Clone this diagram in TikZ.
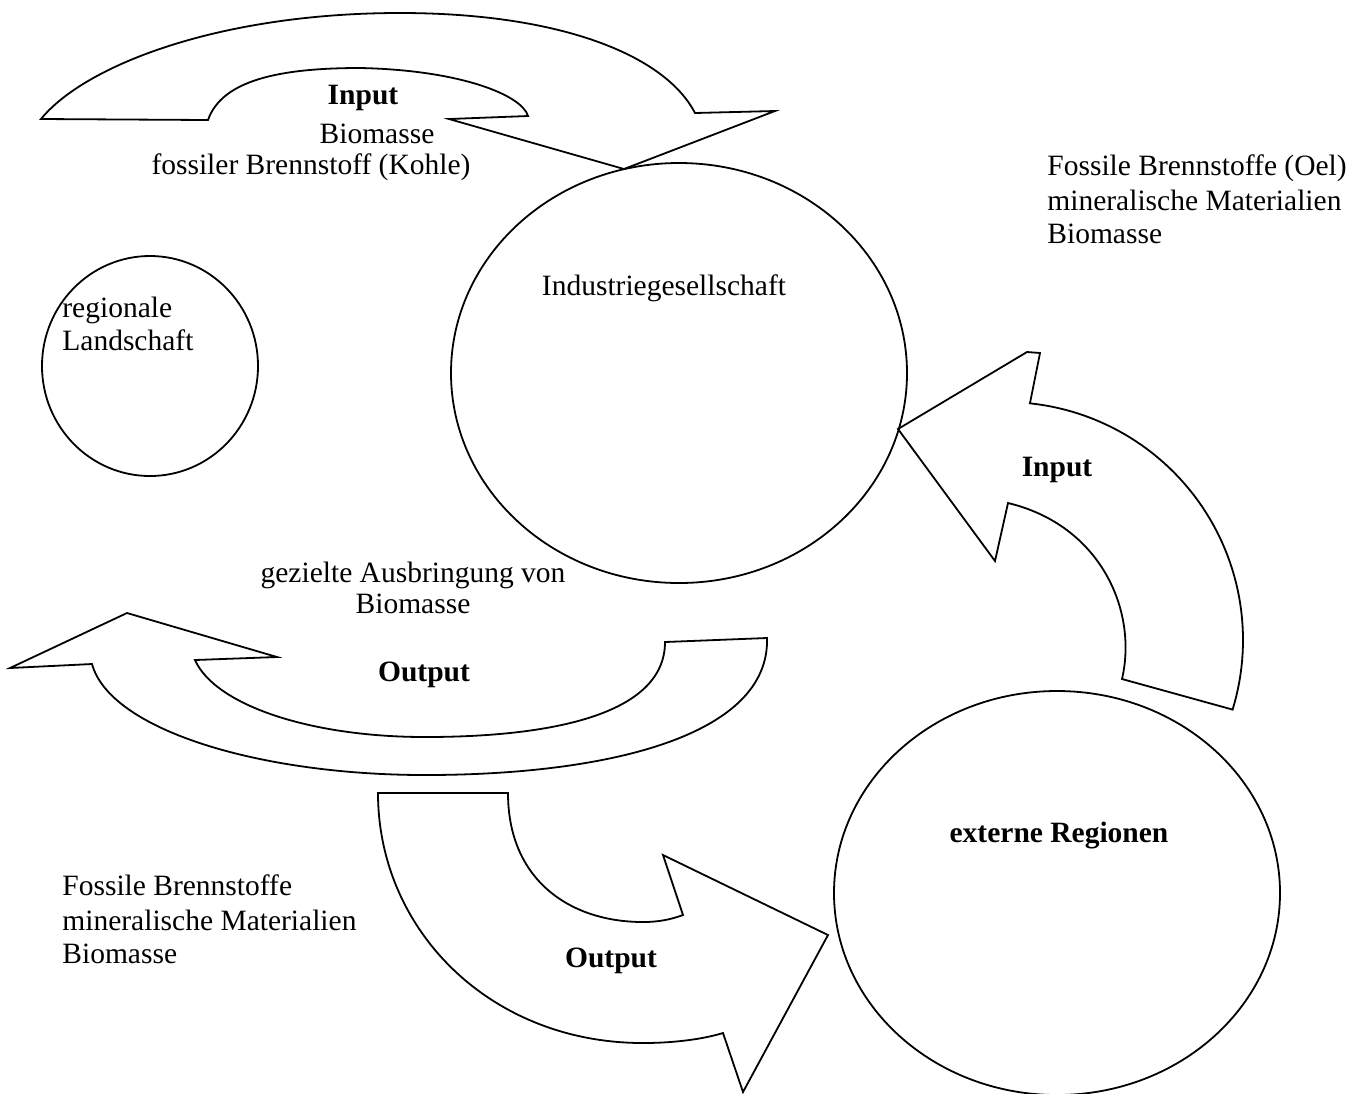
\documentclass[tikz,border=0pt]{standalone}
\usepackage{fontspec}
\setmainfont{Liberation Serif}
\usetikzlibrary{shapes.geometric}
\begin{document}
\begin{tikzpicture}[x=0.5bp, y=-0.5bp,
  outline/.style={draw=black, line width=0.9bp, line join=miter},
  region/.style={ellipse, draw=black, line width=0.9bp, inner sep=0pt},
  txt/.style={inner sep=0pt, font=\fontsize{14.75bp}{17.5bp}\selectfont},
  btxt/.style={txt, font=\fontsize{14.75bp}{17.5bp}\selectfont\bfseries}]
\useasboundingbox (0,0) rectangle (1363,1093);

% regions
\node[region, minimum width=228bp, minimum height=210bp] (ind) at (679,373) {};
\node[region, minimum width=108bp, minimum height=110bp] (reg) at (150,366) {};
\node[region, minimum width=223bp, minimum height=202bp] (ext) at (1057,893) {};

% curved input arrow at the top (landscape -> industrial society)
\draw[outline] (41,119)
  .. controls (85,65) and (220,13) .. (400,13)
  .. controls (560,13) and (665,55) .. (695,113)
  -- (775,111) -- (624,169) -- (449,119) -- (528,116)
  .. controls (522,95) and (460,70) .. (360,68)
  .. controls (280,68) and (222,80) .. (208,120)
  -- cycle;

% curved input arrow on the right (external regions -> industrial society)
\draw[outline] (898,429) -- (1027,352) -- (1040,353) -- (1030,403)
  -- plot[domain=84:-17, samples=60, variable=\t] ({1005+238*cos(\t)}, {640-238*sin(\t)})
  -- (1122,679)
  .. controls (1138,610) and (1100,525) .. (1008,503)
  -- (995,561) -- cycle;

% curved output arrow back to the landscape
\draw[outline] (10,668) -- (127,613) -- (277,657) -- (195,660)
  .. controls (215,705) and (310,737) .. (425,737)
  .. controls (550,737) and (665,715) .. (665,642)
  -- (767,638)
  .. controls (770,735) and (610,775) .. (425,775)
  .. controls (260,775) and (110,730) .. (92,664)
  -- cycle;

% curved output arrow to the external regions
\draw[outline] (378,793) -- (508,793)
  .. controls (508,880) and (570,922) .. (643,922)
  .. controls (660,922) and (672,919) .. (683,915)
  -- (663,855) -- (828,935) -- (743,1092) -- (723,1033)
  .. controls (700,1040) and (670,1043) .. (643,1043)
  .. controls (490,1043) and (378,930) .. (378,793)
  -- cycle;

% labels
\node[btxt, anchor=base] (inTop) at (363,104) {Input};
\node[txt, anchor=base] (inTopA) at (377,143) {Biomasse};
\node[txt, anchor=base] (inTopB) at (311,174) {fossiler Brennstoff (Kohle)};

\node[txt, anchor=base] (indLbl) at (664,295) {Industriegesellschaft};
\node[txt, anchor=base west] (regA) at (62,317) {regionale};
\node[txt, anchor=base west] (regB) at (62,350) {Landschaft};

\node[txt, anchor=base west] (impA) at (1047,175) {Fossile Brennstoffe (Oel)};
\node[txt, anchor=base west] (impB) at (1047,210) {mineralische Materialien};
\node[txt, anchor=base west] (impC) at (1047,243) {Biomasse};
\node[btxt, anchor=base] (inRight) at (1057,476) {Input};

\node[txt, anchor=base] (outA) at (413,582) {gezielte Ausbringung von};
\node[txt, anchor=base] (outB) at (413,613) {Biomasse};
\node[btxt, anchor=base] (outLeft) at (424,681) {Output};

\node[btxt, anchor=base] (extLbl) at (1059,842) {externe Regionen};

\node[txt, anchor=base west] (expA) at (62,895) {Fossile Brennstoffe};
\node[txt, anchor=base west] (expB) at (62,930) {mineralische Materialien};
\node[txt, anchor=base west] (expC) at (62,963) {Biomasse};
\node[btxt, anchor=base] (outBottom) at (611,967) {Output};
\end{tikzpicture}
\end{document}
